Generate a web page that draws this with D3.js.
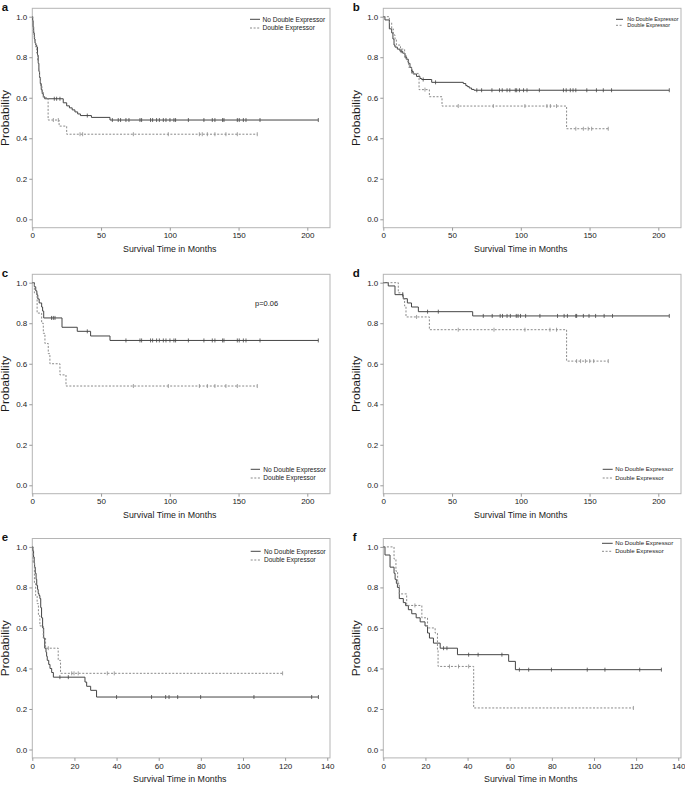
<!DOCTYPE html>
<html>
<head>
<meta charset="utf-8">
<script src="https://cdn.jsdelivr.net/npm/d3@7"></script>
<style>
  body { margin: 0; background: #fff; }
  svg { display: block; font-family: "Liberation Sans", Arial, sans-serif; }
</style>
</head>
<body>
<svg id="chart" width="685" height="785"></svg>
<script>
// ---- data (time in months, survival probability) ----
var seriesNames = ['No Double Expressor', 'Double Expressor'];
var yTicks = [0, 0.2, 0.4, 0.6, 0.8, 1.0];
var xTicksLong = [0, 50, 100, 150, 200];
var xTicksShort = [0, 20, 40, 60, 80, 100, 120, 140];

// panel a
var aNoTimes = [0.3, 0.6, 1.0, 1.5, 2.0, 2.5, 3.2, 3.8, 4.3, 4.8, 5.3, 5.8, 6.5, 7.2, 8.0, 9.0, 22.5, 25, 27, 29, 31, 33, 35, 43, 56.5];
var aNoSurv = [0.98, 0.95, 0.92, 0.89, 0.87, 0.86, 0.85, 0.81, 0.77, 0.73, 0.70, 0.67, 0.64, 0.62, 0.605, 0.595, 0.575, 0.56, 0.55, 0.54, 0.53, 0.52, 0.512, 0.503, 0.49];
var aNoCens = [16, 17.7, 20.1, 40, 58.2, 62.5, 64.2, 68.1, 70.3, 78.3, 79.5, 86, 87.5, 90.4, 92.4, 95.3, 97.2, 100.1, 103, 104.2, 113.5, 124.8, 130.9, 132.8, 138.4, 139.4, 149.1, 150.5, 153.5, 155.4, 165.6, 208];
var aDeTimes = [0.3, 0.7, 1.2, 1.8, 2.5, 3.2, 3.8, 4.5, 5.2, 6.0, 7.0, 8.0, 11.5, 19.5, 25];
var aDeSurv = [0.97, 0.93, 0.90, 0.87, 0.85, 0.82, 0.78, 0.74, 0.70, 0.66, 0.63, 0.60, 0.49, 0.46, 0.42];
var aDeCens = [15.3, 18.9, 34.7, 36.6, 73.5, 98.9, 121.5, 123.6, 127.3, 132.8, 140.8, 149.1, 163.6];

// panel b
var bNoTimes = [1.2, 4.4, 6.1, 7.0, 7.8, 8.5, 10.2, 12.1, 14.1, 15.8, 17.0, 18.2, 19.4, 20.6, 21.8, 24.2, 26.7, 27.9, 35.2, 58.2, 60, 61.1, 62.5, 64.2, 66];
var bNoSurv = [0.984, 0.94, 0.92, 0.89, 0.86, 0.85, 0.84, 0.83, 0.82, 0.80, 0.79, 0.77, 0.75, 0.73, 0.717, 0.705, 0.695, 0.69, 0.676, 0.67, 0.66, 0.655, 0.648, 0.641, 0.637];
var bNoCens = [13, 16.5, 21, 29, 38, 68, 71.5, 79, 84.5, 86.5, 90, 92, 96, 97, 99, 102, 104.5, 113.5, 131, 133, 136, 138, 140, 148, 155, 160, 166, 208];
var bDeTimes = [4.4, 6.1, 7.3, 8.5, 9.5, 12.5, 15.5, 17, 18.5, 20.5, 26, 33.5, 42.7, 133.3];
var bDeSurv = [0.97, 0.94, 0.91, 0.89, 0.86, 0.84, 0.80, 0.78, 0.75, 0.72, 0.64, 0.605, 0.559, 0.447];
var bDeCens = [30.3, 54.5, 80, 103, 119, 121.5, 126, 140, 145.5, 149, 151.5, 163.6];

// panel c
var cNoTimes = [1.5, 2.5, 3.3, 4.0, 5.0, 6.8, 7.5, 8.3, 21.6, 32.7, 42.4, 56.5];
var cNoSurv = [0.98, 0.96, 0.94, 0.92, 0.90, 0.88, 0.86, 0.826, 0.78, 0.76, 0.737, 0.715];
var cNoCens = [14, 15.3, 16.5, 40, 68.1, 78.3, 79.5, 86, 87.5, 90.4, 92.4, 95.3, 97.2, 100.1, 103, 104.2, 113.5, 124.8, 130.9, 132.8, 138.4, 139.4, 149.1, 150.5, 153.5, 155.4, 165.6, 208];
var cDeTimes = [1.5, 3.5, 6.8, 8.0, 9.2, 11.6, 12.8, 20.1, 24.5];
var cDeSurv = [0.95, 0.85, 0.80, 0.75, 0.70, 0.65, 0.60, 0.545, 0.49];
var cDeCens = [73.5, 98.9, 121.5, 127.3, 132.8, 140.8, 149.1, 163.6];

// panel d
var dNoTimes = [3.6, 8.5, 14.5, 17.5, 20.5, 25.5, 65];
var dNoSurv = [0.984, 0.941, 0.921, 0.90, 0.88, 0.857, 0.836];
var dNoCens = [14, 32.2, 40, 72.7, 79.2, 85, 86.7, 90, 92.4, 96.7, 98, 99.8, 103.5, 113.9, 126.7, 131.5, 133.9, 140, 140.6, 145.5, 149.6, 154.4, 160.6, 166.7, 208];
var dDeTimes = [10.9, 14.5, 15.5, 16.5, 33.5, 133.3];
var dDeSurv = [0.95, 0.92, 0.885, 0.831, 0.768, 0.613];
var dDeCens = [24.2, 54.5, 80.5, 103, 121.2, 126, 140.6, 143.5, 147, 150.1, 153, 163.6];

// panel e
var eNoTimes = [0.3, 0.6, 0.9, 1.1, 1.4, 1.8, 2.1, 2.5, 2.8, 3.2, 3.6, 4.0, 4.4, 4.9, 5.4, 5.9, 6.5, 6.8, 7.1, 7.8, 8.4, 9.2, 10.0, 25.0, 25.8, 27.7, 30.5];
var eNoSurv = [0.98, 0.95, 0.92, 0.90, 0.87, 0.84, 0.81, 0.79, 0.77, 0.76, 0.745, 0.70, 0.65, 0.60, 0.55, 0.50, 0.48, 0.46, 0.44, 0.42, 0.40, 0.38, 0.357, 0.333, 0.312, 0.292, 0.259];
var eNoCens = [13.1, 17.1, 40, 56.6, 63.3, 64.9, 69, 79.9, 105.2, 132.6, 135.8];
var eDeTimes = [0.4, 1.0, 1.6, 2.3, 2.9, 3.6, 5.2, 6.3, 12.3, 13.4];
var eDeSurv = [0.92, 0.82, 0.76, 0.72, 0.66, 0.61, 0.55, 0.50, 0.44, 0.376];
var eDeCens = [7.6, 18.7, 19.8, 21.8, 35.6, 38.9, 118.8];

// panel f
var fNoTimes = [0.8, 3.2, 5.1, 5.6, 6.2, 6.7, 7.6, 9.5, 10.6, 11.9, 13.5, 15.6, 17.5, 19.8, 21.0, 21.9, 23.8, 27.0, 35.2, 59.5, 62.7];
var fNoSurv = [0.96, 0.90, 0.87, 0.84, 0.82, 0.80, 0.745, 0.725, 0.71, 0.69, 0.67, 0.65, 0.63, 0.61, 0.575, 0.55, 0.525, 0.50, 0.468, 0.435, 0.394];
var fNoCens = [28.6, 30.2, 40.5, 45, 56.3, 64.6, 69, 79.8, 96.8, 105.2, 121.7, 132];
var fDeTimes = [5.1, 6.0, 6.8, 7.6, 11.1, 18.3, 21.0, 24.6, 25.7, 26.0, 42.9];
var fDeSurv = [0.94, 0.88, 0.82, 0.768, 0.711, 0.65, 0.60, 0.575, 0.49, 0.41, 0.205];
var fDeCens = [7, 15, 31.4, 35.7, 40.5, 118.7];

// ---- layout ----
var panels = [
    {label: 'a', left: 32.3, top: 8.3, xTicks: xTicksLong, xMax: 216.5, tickMax: 200,
     no: [aNoTimes, aNoSurv, aNoCens], de: [aDeTimes, aDeSurv, aDeCens],
     legend: {x1: 250, x2: 260, tx: 262.5, y1: 19.3, y2: 28, size: 6.6}},
    {label: 'b', left: 383.3, top: 8.3, xTicks: xTicksLong, xMax: 216.5, tickMax: 200,
     no: [bNoTimes, bNoSurv, bNoCens], de: [bDeTimes, bDeSurv, bDeCens],
     legend: {x1: 616, x2: 623, tx: 627.3, y1: 19.3, y2: 25.3, size: 5.4}},
    {label: 'c', left: 32.3, top: 274.3, xTicks: xTicksLong, xMax: 216.5, tickMax: 200,
     no: [cNoTimes, cNoSurv, cNoCens], de: [cDeTimes, cDeSurv, cDeCens],
     legend: {x1: 250.7, x2: 260, tx: 263.3, y1: 469.3, y2: 478, size: 6.6},
     note: {text: 'p=0.06', x: 255, y: 303.7}},
    {label: 'd', left: 383.3, top: 274.3, xTicks: xTicksLong, xMax: 216.5, tickMax: 200,
     no: [dNoTimes, dNoSurv, dNoCens], de: [dDeTimes, dDeSurv, dDeCens],
     legend: {x1: 602.7, x2: 612.7, tx: 615.3, y1: 469.3, y2: 478, size: 6.1}},
    {label: 'e', left: 32.3, top: 538.5, xTicks: xTicksShort, xMax: 141.3, tickMax: 140,
     no: [eNoTimes, eNoSurv, eNoCens], de: [eDeTimes, eDeSurv, eDeCens],
     legend: {x1: 250.7, x2: 260.7, tx: 264, y1: 551.3, y2: 560, size: 6.5}},
    {label: 'f', left: 383.3, top: 538.5, xTicks: xTicksShort, xMax: 141.3, tickMax: 140,
     no: [fNoTimes, fNoSurv, fNoCens], de: [fDeTimes, fDeSurv, fDeCens],
     legend: {x1: 602, x2: 612.7, tx: 615.3, y1: 543.3, y2: 551.3, size: 6.1}}
];

var frameW = 297.7, frameH = 219.4, pad = 8.4;
var styles = {
    no: {stroke: '#454545', dash: null},
    de: {stroke: '#8a8a8a', dash: '2,1.6'}
};

var svg = d3.select('#chart');

panels.forEach(function(p) {
    var x = d3.scaleLinear().domain([0, p.xMax]).range([p.left, p.left + frameW]);
    var y = d3.scaleLinear().domain([0, 1]).range([p.top + frameH - pad, p.top + pad]);
    var g = svg.append('g');

    // frame
    g.append('rect')
        .attr('x', p.left).attr('y', p.top)
        .attr('width', frameW).attr('height', frameH)
        .attr('fill', 'none').attr('stroke', '#b5b5b5').attr('stroke-width', 1);

    // y axis
    var ya = g.append('g')
        .attr('transform', 'translate(' + p.left + ',0)')
        .call(d3.axisLeft(y).tickValues(yTicks).tickFormat(d3.format('.1f')).tickSize(3).tickPadding(2));
    ya.select('.domain').remove();
    ya.selectAll('line').attr('stroke', '#999');
    ya.selectAll('text').attr('font-size', 8).attr('fill', '#1a1a1a');

    // x axis
    var xa = g.append('g')
        .attr('transform', 'translate(0,' + (p.top + frameH) + ')')
        .call(d3.axisBottom(x).tickValues(p.xTicks).tickFormat(d3.format('d')).tickSize(3).tickPadding(2));
    xa.select('.domain').remove();
    xa.selectAll('line').attr('stroke', '#999');
    xa.selectAll('text').attr('font-size', 8).attr('fill', '#1a1a1a');

    // axis titles
    g.append('text')
        .attr('x', (x(0) + x(p.tickMax)) / 2)
        .attr('y', p.top + frameH + 24.5)
        .attr('text-anchor', 'middle')
        .attr('font-size', 8.8).attr('fill', '#1a1a1a')
        .text('Survival Time in Months');
    g.append('text')
        .attr('transform', 'translate(' + (p.left - 23.5) + ',' + ((y(0) + y(1)) / 2) + ') rotate(-90)')
        .attr('text-anchor', 'middle')
        .attr('font-size', 10).attr('fill', '#1a1a1a')
        .attr('textLength', 56).attr('lengthAdjust', 'spacingAndGlyphs')
        .text('Probability');

    // panel letter
    g.append('text')
        .attr('x', p.left - 30.5)
        .attr('y', p.top + 2.2)
        .attr('font-size', 11.5).attr('font-weight', 'bold').attr('fill', '#111')
        .text(p.label);

    // curves
    ['no', 'de'].forEach(function(key) {
        var times = p[key][0], surv = p[key][1], cens = p[key][2];
        var st = styles[key];
        var tEnd = d3.max(cens);
        var pts = [[0, 1]];
        times.forEach(function(t, i) { pts.push([t, surv[i]]); });
        pts.push([tEnd, surv[surv.length - 1]]);

        var line = d3.line()
            .x(function(d) { return x(d[0]); })
            .y(function(d) { return y(d[1]); })
            .curve(d3.curveStepAfter);

        g.append('path')
            .datum(pts)
            .attr('d', line)
            .attr('fill', 'none')
            .attr('stroke', st.stroke)
            .attr('stroke-width', 1)
            .attr('stroke-dasharray', st.dash);

        var survAt = function(t) {
            var i = d3.bisectRight(times, t);
            return i === 0 ? 1 : surv[i - 1];
        };
        g.selectAll('line.cens-' + key)
            .data(cens)
            .enter()
            .append('line')
            .attr('class', 'cens-' + key)
            .attr('x1', function(d) { return x(d); })
            .attr('x2', function(d) { return x(d); })
            .attr('y1', function(d) { return y(survAt(d)) - 2; })
            .attr('y2', function(d) { return y(survAt(d)) + 2; })
            .attr('stroke', st.stroke)
            .attr('stroke-width', 0.8);
    });

    // legend
    var lg = p.legend;
    [['no', lg.y1], ['de', lg.y2]].forEach(function(r, i) {
        var st = styles[r[0]];
        g.append('line')
            .attr('x1', lg.x1).attr('x2', lg.x2)
            .attr('y1', r[1]).attr('y2', r[1])
            .attr('stroke', st.stroke).attr('stroke-width', 1)
            .attr('stroke-dasharray', st.dash);
        g.append('text')
            .attr('x', lg.tx).attr('y', r[1])
            .attr('dy', '0.35em')
            .attr('font-size', lg.size).attr('fill', '#1a1a1a')
            .text(seriesNames[i]);
    });

    if (p.note) {
        g.append('text')
            .attr('x', p.note.x).attr('y', p.note.y)
            .attr('dy', '0.35em')
            .attr('font-size', 7.5).attr('fill', '#1a1a1a')
            .text(p.note.text);
    }
});
</script>
</body>
</html>
